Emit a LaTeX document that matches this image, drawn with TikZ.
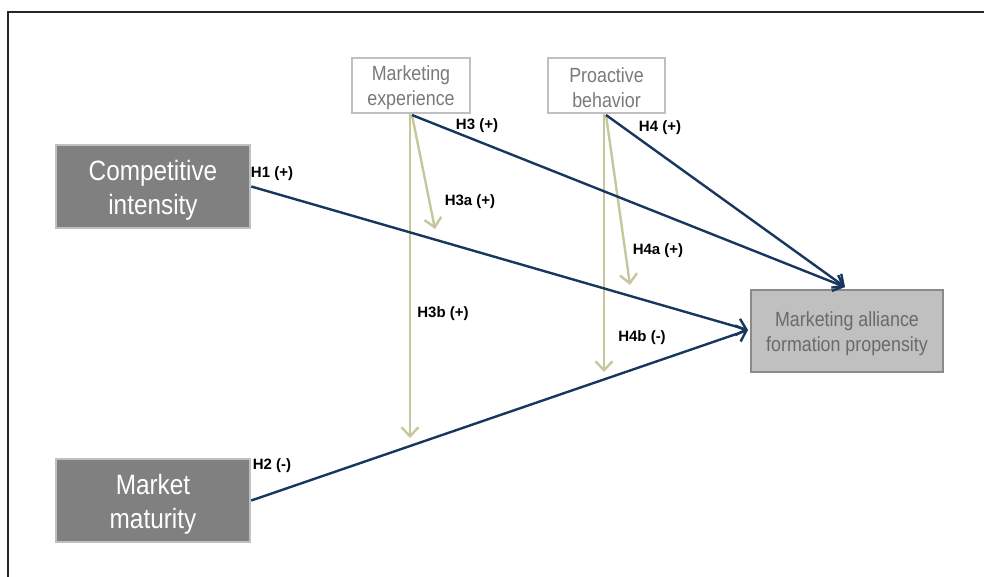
\documentclass[tikz,border=0pt]{standalone}
\usepackage{fontspec}
\setmainfont{Liberation Sans}
\newfontfamily\narrowfont[FakeStretch=0.87]{Liberation Sans}
\usetikzlibrary{arrows.meta}
\definecolor{navy}{HTML}{17375E}
\definecolor{khaki}{HTML}{C6C79C}
\definecolor{darkbox}{HTML}{808080}
\definecolor{lightedge}{HTML}{C0C0C0}
\definecolor{modtext}{HTML}{7A7A7A}
\definecolor{outbox}{HTML}{C0C0C0}
\definecolor{outedge}{HTML}{8A8A8A}
\definecolor{outtext}{HTML}{6A6A6A}
\newcommand{\bigdown}{\rule{0pt}{27pt}}
\newcommand{\smalldown}{\rule{0pt}{20pt}}
\tikzset{
  x=1pt,y=1pt,
  indep/.style={draw=lightedge,line width=2.5pt,fill=darkbox,text=white,
    minimum width=194pt,minimum height=83pt,inner sep=0pt,align=center,
    font=\narrowfont\fontsize{28}{34}\selectfont},
  moder/.style={draw=lightedge,line width=2.5pt,fill=white,text=modtext,
    minimum height=55pt,inner sep=0pt,align=center,
    font=\narrowfont\fontsize{20.5}{25}\selectfont},
  outcome/.style={draw=outedge,line width=2.5pt,fill=outbox,text=outtext,
    minimum width=192pt,minimum height=82pt,inner sep=0pt,align=center,
    font=\narrowfont\fontsize{20.5}{25}\selectfont},
  mainarrow/.style={draw=navy,line width=2.4pt,
    -{Straight Barb[length=9pt,width=17pt,line width=2.4pt]}},
  modarrow/.style={draw=khaki,line width=2.4pt,
    -{Straight Barb[length=9pt,width=17pt,line width=2.4pt]}},
  hlabel/.style={font=\bfseries\fontsize{15}{17}\selectfont,text=black,inner sep=0pt}
}
\begin{document}
\begin{tikzpicture}
\useasboundingbox (0,0) rectangle (984,-576);
\clip (0,0) rectangle (984,-576);
\draw[line width=2.2pt,color=black!85] (8,-620) -- (8,-12) -- (1020,-12);

\node[indep] (ci) at (153,-186.5) {\bigdown Competitive\\intensity};
\node[indep] (mm) at (153,-500.5) {\bigdown Market\\maturity};
\node[moder,minimum width=118pt] (me) at (411,-85.5) {\smalldown Marketing\\experience};
\node[moder,minimum width=117pt] (pb) at (606.5,-85.5) {\smalldown Proactive\\behavior};
\node[outcome] (ma) at (847,-331) {\smalldown Marketing alliance\\formation propensity};

\coordinate (meS) at (412,-115);
\coordinate (pbS) at (606,-115);
\coordinate (h3a) at (435,-229);
\coordinate (h3b) at (410,-438);
\coordinate (h4a) at (630,-285);
\coordinate (h4b) at (604,-372);
\coordinate (maTop) at (845,-287);
\coordinate (maLeft) at (748,-330);

\draw[modarrow] (meS) -- (h3a);
\draw[modarrow] (me.south -| h3b) -- (h3b);
\draw[modarrow] (pbS) -- (h4a);
\draw[modarrow] (pb.south -| h4b) -- (h4b);

\draw[mainarrow] (ci.east) -- (maLeft);
\draw[mainarrow] (mm.east) -- (maLeft);
\draw[mainarrow] (meS) -- (maTop);
\draw[mainarrow] (pbS) -- (maTop);

\node[hlabel] (l1) at (272,-174) {H1 (+)};
\node[hlabel] (l2) at (272,-466) {H2 (-)};
\node[hlabel] (l3) at (477,-126) {H3 (+)};
\node[hlabel] (l4) at (660,-128) {H4 (+)};
\node[hlabel] (l3a) at (470,-202) {H3a (+)};
\node[hlabel] (l4a) at (658,-251) {H4a (+)};
\node[hlabel] (l3b) at (443,-314) {H3b (+)};
\node[hlabel] (l4b) at (642,-338) {H4b (-)};
\end{tikzpicture}
\end{document}
